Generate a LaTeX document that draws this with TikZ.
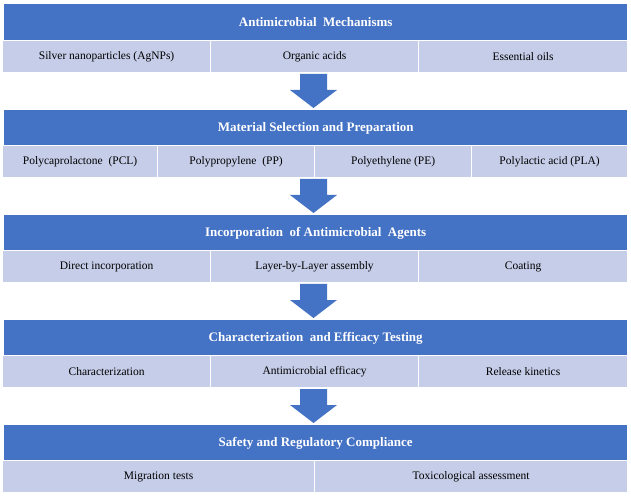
\documentclass[tikz,border=0pt]{standalone}
\usepackage{fontspec}
\setmainfont{Liberation Serif}
\definecolor{hdr}{HTML}{4472C4}
\definecolor{cell}{HTML}{C5CDE8}
\begin{document}
\begin{tikzpicture}[x=1pt,y=-1pt,
 hdr/.style={fill=hdr,draw=none,text=white,font=\fontsize{13}{15}\selectfont\bfseries,minimum height=36pt,minimum width=623pt,inner sep=0pt,anchor=north west},
 cell/.style={fill=cell,draw=white,line width=1.2pt,font=\fontsize{11.5}{13}\selectfont,minimum height=32pt,inner sep=0pt,anchor=north west},
 arr/.style={fill=hdr,draw=none}]
\useasboundingbox (0,0) rectangle (631,502);
\def\arrowat#1#2{\fill[hdr] (300,#1) -- (327,#1) -- (327,#1+16) -- (337,#1+16) -- (313.5,#2) -- (290,#1+16) -- (300,#1+16) -- cycle;}
% section 1
\node[hdr] (h1) at (4,4) {Antimicrobial\ \ Mechanisms};
\node[cell,minimum width=208pt] (c11) at (2,40) {Silver nanoparticles (AgNPs)};
\node[cell,minimum width=208pt] (c12) at (210,40) {Organic acids};
\node[cell,minimum width=209pt] (c13) at (418,40) {Essential oils};
\arrowat{74}{108}
% section 2
\node[hdr] (h2) at (4,110) {Material Selection and Preparation};
\node[cell,minimum width=155pt] (c21) at (2,145) {Polycaprolactone\ \ (PCL)};
\node[cell,minimum width=157pt] (c22) at (157,145) {Polypropylene\ \ (PP)};
\node[cell,minimum width=157pt] (c23) at (314,145) {Polyethylene (PE)};
\node[cell,minimum width=156pt] (c24) at (471,145) {Polylactic acid (PLA)};
\arrowat{179}{213}
% section 3
\node[hdr] (h3) at (4,215) {Incorporation\ \ of Antimicrobial\ \ Agents};
\node[cell,minimum width=208pt] (c31) at (2,250) {Direct incorporation};
\node[cell,minimum width=208pt] (c32) at (210,250) {Layer-by-Layer assembly};
\node[cell,minimum width=209pt] (c33) at (418,250) {Coating};
\arrowat{284}{318}
% section 4
\node[hdr] (h4) at (4,320) {Characterization\ \ and Efficacy Testing};
\node[cell,minimum width=208pt] (c41) at (2,355) {Characterization};
\node[cell,minimum width=208pt] (c42) at (210,355) {Antimicrobial efficacy};
\node[cell,minimum width=209pt] (c43) at (418,355) {Release kinetics};
\arrowat{389}{423}
% section 5
\node[hdr] (h5) at (4,425) {Safety and Regulatory Compliance};
\node[cell,minimum width=312pt] (c51) at (2,460) {Migration tests};
\node[cell,minimum width=313pt] (c52) at (314,460) {Toxicological assessment};
\end{tikzpicture}
\end{document}
